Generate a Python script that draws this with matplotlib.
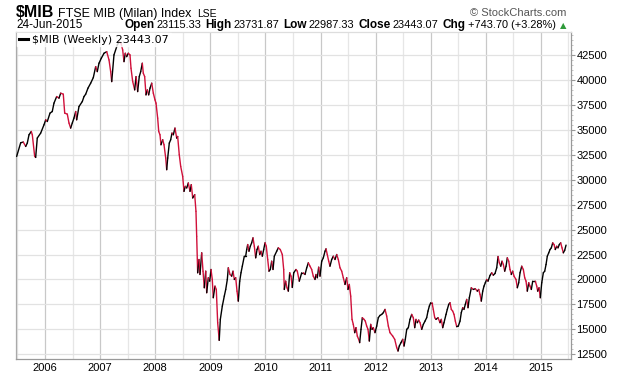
import matplotlib
matplotlib.use("Agg")
import matplotlib.pyplot as plt
import numpy as np
from matplotlib.collections import LineCollection
from matplotlib.lines import Line2D
from matplotlib import font_manager

# Weekly closes of the FTSE MIB (x as decimal years)
years = [
    2005.486, 2005.559, 2005.606, 2005.650, 2005.679, 2005.710, 2005.751, 2005.770, 2005.813, 2005.831,
    2005.860, 2005.922, 2005.982, 2006.013, 2006.042, 2006.091, 2006.132, 2006.163, 2006.212, 2006.254,
    2006.285, 2006.332, 2006.358, 2006.405, 2006.436, 2006.466, 2006.495, 2006.526, 2006.557, 2006.575,
    2006.617, 2006.677, 2006.708, 2006.739, 2006.780, 2006.829, 2006.877, 2006.920, 2006.949, 2006.980,
    2007.022, 2007.071, 2007.120, 2007.162, 2007.192, 2007.211, 2007.252, 2007.312, 2007.348, 2007.379,
    2007.410, 2007.434, 2007.457, 2007.483, 2007.512, 2007.543, 2007.561, 2007.592, 2007.628, 2007.652,
    2007.682, 2007.711, 2007.737, 2007.766, 2007.784, 2007.809, 2007.833, 2007.857, 2007.882, 2007.906,
    2007.937, 2007.966, 2007.996, 2008.015, 2008.045, 2008.064, 2008.087, 2008.105, 2008.136, 2008.160,
    2008.191, 2008.209, 2008.227, 2008.256, 2008.281, 2008.305, 2008.329, 2008.359, 2008.390, 2008.408,
    2008.437, 2008.463, 2008.499, 2008.523, 2008.546, 2008.572, 2008.601, 2008.632, 2008.655, 2008.681,
    2008.717, 2008.740, 2008.753, 2008.771, 2008.795, 2008.813, 2008.844, 2008.868, 2008.891, 2008.917,
    2008.935, 2008.964, 2008.989, 2009.013, 2009.036, 2009.054, 2009.085, 2009.109, 2009.134, 2009.162,
    2009.182, 2009.218, 2009.254, 2009.280, 2009.309, 2009.327, 2009.358, 2009.388, 2009.412, 2009.436,
    2009.461, 2009.485, 2009.508, 2009.534, 2009.557, 2009.581, 2009.617, 2009.642, 2009.661, 2009.679,
    2009.702, 2009.726, 2009.751, 2009.775, 2009.799, 2009.824, 2009.848, 2009.871, 2009.897, 2009.920,
    2009.944, 2009.969, 2009.993, 2010.016, 2010.042, 2010.065, 2010.089, 2010.114, 2010.138, 2010.162,
    2010.205, 2010.234, 2010.270, 2010.307, 2010.332, 2010.343, 2010.368, 2010.392, 2010.416, 2010.441,
    2010.465, 2010.488, 2010.514, 2010.555, 2010.579, 2010.615, 2010.659, 2010.688, 2010.719, 2010.750,
    2010.779, 2010.809, 2010.840, 2010.869, 2010.900, 2010.918, 2010.942, 2010.967, 2010.991, 2011.022,
    2011.051, 2011.082, 2011.100, 2011.123, 2011.149, 2011.172, 2011.203, 2011.232, 2011.263, 2011.294,
    2011.323, 2011.354, 2011.385, 2011.414, 2011.445, 2011.475, 2011.499, 2011.523, 2011.548, 2011.572,
    2011.595, 2011.621, 2011.644, 2011.668, 2011.693, 2011.711, 2011.735, 2011.759, 2011.790, 2011.813,
    2011.838, 2011.862, 2011.886, 2011.911, 2011.935, 2011.958, 2011.989, 2012.020, 2012.049, 2012.080,
    2012.111, 2012.140, 2012.171, 2012.201, 2012.231, 2012.261, 2012.310, 2012.347, 2012.383, 2012.407,
    2012.430, 2012.461, 2012.492, 2012.516, 2012.539, 2012.565, 2012.594, 2012.624, 2012.655, 2012.684,
    2012.710, 2012.733, 2012.757, 2012.782, 2012.806, 2012.837, 2012.866, 2012.897, 2012.927, 2012.951,
    2012.975, 2013.000, 2013.024, 2013.047, 2013.073, 2013.096, 2013.133, 2013.169, 2013.192, 2013.218,
    2013.241, 2013.278, 2013.301, 2013.327, 2013.350, 2013.374, 2013.399, 2013.423, 2013.447, 2013.472,
    2013.501, 2013.532, 2013.555, 2013.581, 2013.604, 2013.628, 2013.653, 2013.677, 2013.701, 2013.737,
    2013.773, 2013.809, 2013.846, 2013.871, 2013.895, 2013.918, 2013.944, 2013.967, 2013.991, 2014.016,
    2014.040, 2014.076, 2014.107, 2014.136, 2014.167, 2014.198, 2014.222, 2014.245, 2014.271, 2014.294,
    2014.318, 2014.343, 2014.367, 2014.390, 2014.416, 2014.439, 2014.463, 2014.488, 2014.512, 2014.548,
    2014.572, 2014.597, 2014.621, 2014.652, 2014.681, 2014.706, 2014.730, 2014.753, 2014.779, 2014.802,
    2014.826, 2014.851, 2014.875, 2014.899, 2014.924, 2014.942, 2014.966, 2014.989, 2015.015, 2015.044,
    2015.069, 2015.093, 2015.116, 2015.142, 2015.165, 2015.189, 2015.214, 2015.238, 2015.261, 2015.287,
    2015.310, 2015.334, 2015.359, 2015.383, 2015.407, 2015.432, 2015.456,
]
closes = [
    32330, 33700, 33770, 33330, 33670, 34500, 34830, 34500, 32330, 32230,
    34170, 34670, 35500, 36000, 35830, 36670, 36830, 37670, 38330, 38170,
    38670, 38570, 36670, 36570, 35670, 35170, 35670, 36170, 36830, 36000,
    37330, 37830, 38330, 38570, 39170, 39670, 40230, 41330, 40830, 41670,
    42170, 42670, 42830, 42000, 40830, 39830, 42500, 43500, 43830, 43670,
    43000, 41830, 42670, 42330, 42670, 42500, 41170, 39830, 39000, 40330,
    38830, 40330, 40830, 41670, 40670, 40330, 38500, 39000, 38500, 39170,
    39670, 38670, 38000, 37670, 36170, 34830, 34500, 33500, 34000, 33500,
    32170, 31000, 32170, 33670, 34000, 34670, 34500, 35170, 34170, 34330,
    32500, 31330, 30330, 28830, 29330, 29170, 29670, 28830, 29500, 28170,
    28500, 26830, 24330, 20670, 22000, 20500, 22670, 20830, 19170, 20830,
    18670, 20170, 19830, 21000, 20000, 18170, 19330, 19000, 15670, 13900,
    16000, 17330, 18330, 19000, 20000, 21170, 20500, 20330, 20830, 20000,
    20170, 18830, 17830, 19830, 20670, 21330, 22330, 22330, 23000, 23500,
    22830, 23330, 23670, 24170, 23330, 22170, 23000, 23330, 22500, 22830,
    22330, 23000, 23670, 23330, 22000, 20830, 21000, 21830, 21000, 22330,
    22830, 23170, 23000, 22500, 21000, 19000, 19830, 19170, 18830, 20670,
    20330, 19200, 20670, 21000, 20830, 19830, 20670, 20670, 20500, 21170,
    21670, 21330, 21000, 20330, 20000, 20500, 20170, 21230, 20330, 21830,
    22170, 22830, 23070, 22500, 21830, 21330, 22000, 22330, 22000, 22500,
    22000, 21170, 20830, 20170, 19500, 20170, 19000, 19500, 18330, 16000,
    15500, 14670, 15170, 14330, 14000, 13670, 15000, 16170, 16000, 15830,
    15330, 15000, 13830, 15500, 15000, 15170, 14670, 15330, 16170, 16400,
    16500, 16670, 17000, 16330, 15330, 14670, 14330, 14000, 13170, 12830,
    13330, 13670, 14000, 13330, 14000, 15000, 15170, 16000, 16500, 16170,
    15170, 16000, 15670, 15930, 15670, 15000, 15500, 15830, 16170, 16830,
    17330, 17670, 17670, 17000, 16170, 16000, 16170, 15670, 16000, 15170,
    15670, 16500, 17000, 17500, 17670, 17000, 16830, 16500, 15830, 15270,
    15330, 15830, 16670, 17170, 17000, 17500, 18000, 17170, 18170, 19170,
    19000, 19070, 18830, 19000, 18500, 17830, 18830, 19330, 19670, 20000,
    19830, 20400, 20670, 20430, 20600, 21170, 22300, 21670, 21330, 21830,
    21500, 20830, 21330, 22170, 21830, 21000, 20500, 20830, 20330, 20000,
    19170, 19670, 20670, 21330, 21000, 20170, 19830, 18830, 19670, 19330,
    19000, 19830, 19830, 19830, 19330, 18830, 19170, 18170, 19670, 20670,
    20830, 21500, 22330, 22670, 23000, 23170, 23670, 23500, 23000, 23330,
    23170, 23500, 23670, 23170, 22670, 22930, 23443.07,
]
tick_years = list(range(2006, 2016))
price_ticks = list(range(12500, 42501, 2500))

header_values = ["23115.33", "23731.87", "22987.33", "23443.07", "+743.70 (+3.28%)"]
header_labels = ["Open", "High", "Low", "Close", "Chg"]

W, H = 620, 376
UP, DOWN = "#000000", "#d0103a"

installed = {f.name for f in font_manager.fontManager.ttflist}
base = "Liberation Sans" if "Liberation Sans" in installed else "DejaVu Sans"
narrow = "Liberation Sans Narrow" if "Liberation Sans Narrow" in installed else base
plt.rcParams["font.family"] = [base, "DejaVu Sans"]

fig = plt.figure(figsize=(W / 100, H / 100), dpi=100)
left, right, top, bottom = 16, 571, 32, 359
ax = fig.add_axes([left / W, 1 - bottom / H, (right - left) / W, (bottom - top) / H])

# colour-coded line: black when rising, red when falling
x = np.array(years)
y = np.array(closes, dtype=float)
pts = np.column_stack([x, y]).reshape(-1, 1, 2)
segs = np.concatenate([pts[:-1], pts[1:]], axis=1)
cols = [UP if b >= a else DOWN for a, b in zip(y[:-1], y[1:])]
ax.add_collection(LineCollection(segs, colors=cols, linewidths=1.0, capstyle="round", zorder=3))

ax.set_xlim(2005.474, 2015.546)
ax.set_ylim(12030, 44800)

ax.set_xticks(tick_years)
ax.set_xticklabels([str(t) for t in tick_years])
ax.set_xticks([t - 0.5 for t in tick_years] + [2015.5], minor=True)
ax.set_yticks(price_ticks)
ax.set_yticks(range(12500, 44501, 500), minor=True)
ax.yaxis.tick_right()
ax.tick_params(axis="y", which="major", length=3, color="#999999", labelsize=8, pad=1)
ax.tick_params(axis="y", which="minor", length=1.5, color="#bbbbbb")
ax.tick_params(axis="x", which="both", length=0, labelsize=8, pad=3)

ax.grid(True, axis="y", which="major", color="#e2e2e2", lw=0.9)
ax.grid(True, axis="x", which="major", color="#c8c8c8", lw=0.9)
ax.grid(True, axis="x", which="minor", color="#e6e6e6", lw=0.9)
ax.set_axisbelow(True)
for side, c in [("left", "#aaaaaa"), ("bottom", "#999999"), ("right", "#999999"), ("top", "#dddddd")]:
    ax.spines[side].set_color(c)
    ax.spines[side].set_linewidth(0.9)

leg = ax.legend(
    handles=[Line2D([], [], color="black", lw=2.2)],
    labels=["$MIB (Weekly) 23443.07"],
    loc="upper left", bbox_to_anchor=(0.0, 1.0), frameon=True, fancybox=False,
    handlelength=0.8, handletextpad=0.4, borderpad=0.15, borderaxespad=0.1,
    prop={"family": "DejaVu Sans", "size": 8},
)
leg.get_frame().set_facecolor("white")
leg.get_frame().set_edgecolor("white")

renderer = fig.canvas.get_renderer()


def put(px, py, s, ha="left", **kw):
    t = fig.text(px / W, 1 - py / H, s, ha=ha, va="baseline", **kw)
    return t, t.get_window_extent(renderer).width


# title row
_, w = put(16, 17, "$MIB", family=[narrow, "DejaVu Sans"], fontweight="bold", fontsize=11.5)
_, w2 = put(16 + w + 4, 17, "FTSE MIB (Milan) Index", family=[narrow, "DejaVu Sans"], fontsize=9)
put(16 + w + 4 + w2 + 5, 17, "LSE", fontsize=7.5)
put(566, 15.5, "\u00a9 StockCharts.com", ha="right", color="#555555", fontsize=8)

# second row
put(16, 28, "24-Jun-2015", fontsize=8.5)
parts = []
for lab, val in zip(header_labels, header_values):
    parts.append((lab, dict(fontweight="bold", fontsize=8.5, family=[narrow, "DejaVu Sans"]), 2))
    parts.append((val, dict(fontsize=7.9), 4))
parts.append(("\u25b2", dict(fontsize=6, color="#2e9a3a", family=["DejaVu Sans"]), 0))
widths = []
for s, kw, gap in parts:
    t = fig.text(0, 0, s, **kw)
    widths.append(t.get_window_extent(renderer).width)
    t.remove()
px = 566 - sum(widths) - sum(g for _, _, g in parts)
for (s, kw, gap), wd in zip(parts, widths):
    put(px, 28, s, **kw)
    px += wd + gap

fig.savefig("out.png", dpi=100)
